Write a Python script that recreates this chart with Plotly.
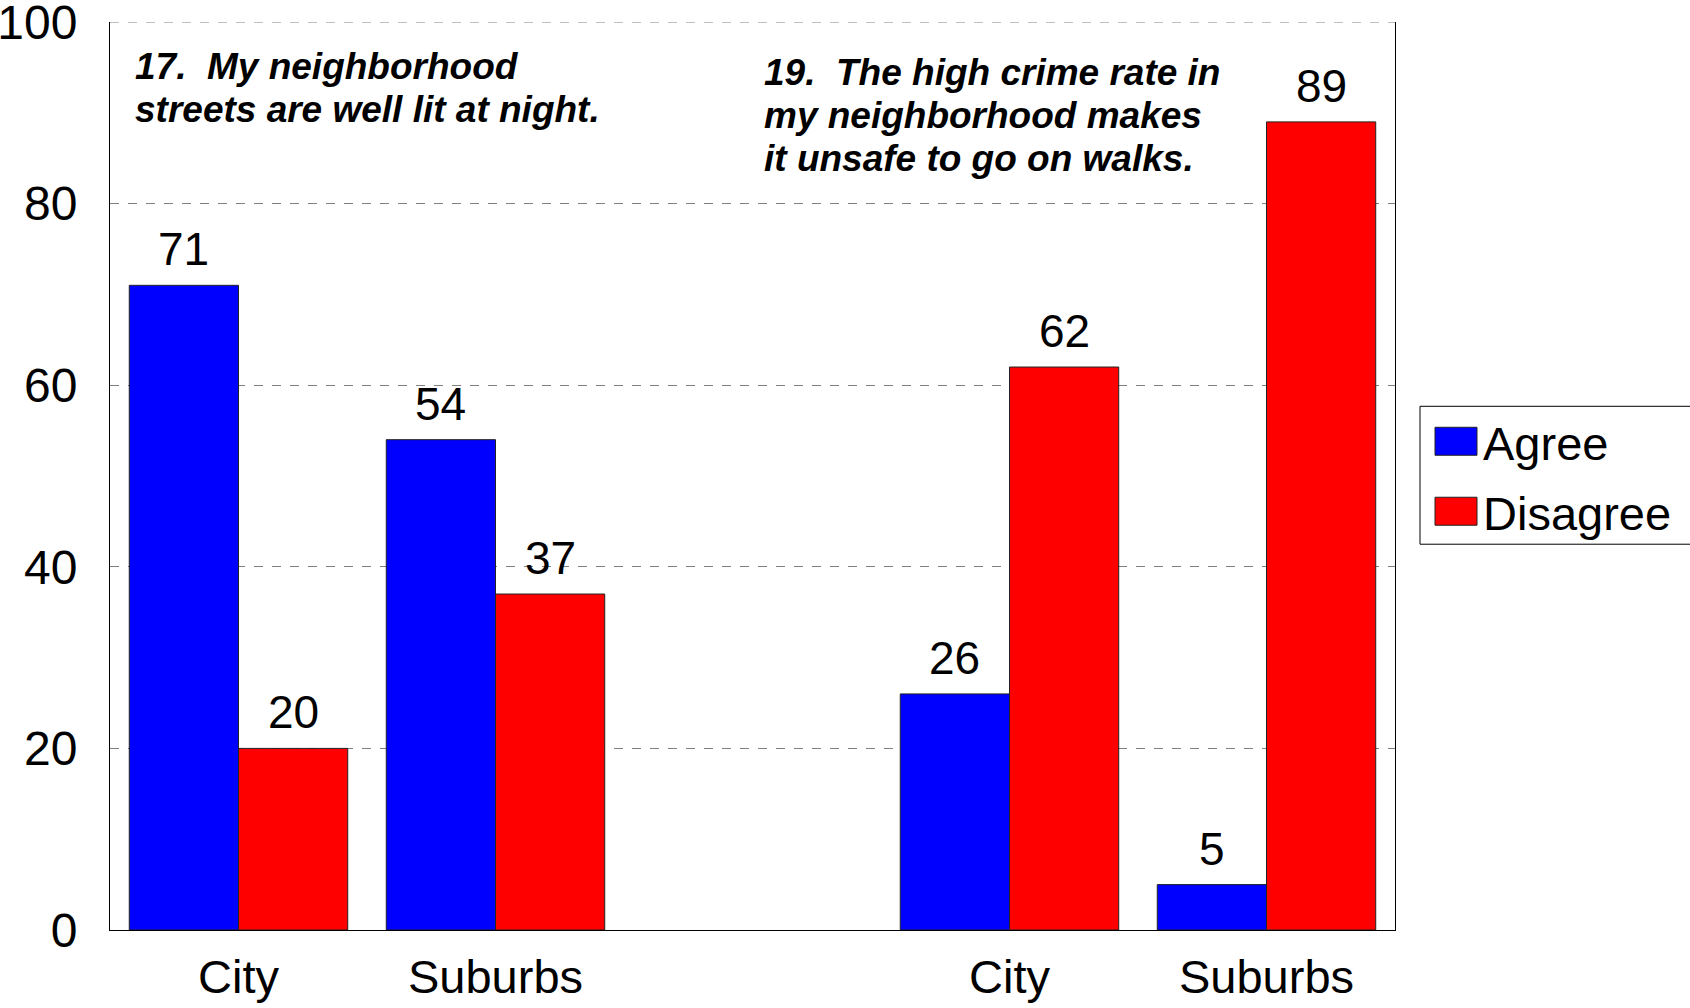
import plotly.graph_objects as go

# data
positions = [0, 1, 2, 3, 4]
tick_labels = ["City", "Suburbs", "", "City", "Suburbs"]
series_names = ["Agree", "Disagree"]
series_colors = ["#0000FF", "#FF0000"]
agree = [71, 54, None, 26, 5]
disagree = [20, 37, None, 62, 89]

note_17 = ["17.  My neighborhood", "streets are well lit at night."]
note_19 = ["19.  The high crime rate in", "my neighborhood makes", "it unsafe to go on walks."]

FONT = "Arial, Liberation Sans, sans-serif"
W, H = 1690, 1008
X0, X1, Y0, Y1 = 110, 1395, 21.5, 930   # plot area in page pixels
L, T = X0, Y0
R, B = W - X1, H - Y1
PW, PH = X1 - X0, Y1 - Y0
BARGAP = 0.15


def px_x(x):
    return (x - X0) / PW


def px_y(y):
    return (Y1 - y) / PH


fig = go.Figure()

# grouped bars, labels placed as annotations above each bar
half = (1 - BARGAP) / 2
for k, (name, values, color) in enumerate(zip(series_names, [agree, disagree], series_colors)):
    fig.add_trace(go.Bar(
        x=positions,
        y=values,
        name=name,
        marker=dict(color=color, line=dict(color="#222222", width=1)),
        showlegend=False,
    ))
    offset = (k - 0.5) * half
    for p, v in zip(positions, values):
        if v is None:
            continue
        fig.add_annotation(
            x=p + offset, y=v, text=str(v),
            xref="x", yref="y",
            xanchor="center", yanchor="bottom",
            yshift=8, showarrow=False,
            font=dict(size=46, color="black", family=FONT),
        )


def add_note(lines, x_px, first_baseline_px, step=43):
    for i, line in enumerate(lines):
        base = first_baseline_px + i * step
        fig.add_annotation(
            text=f"<b><i>{line}</i></b>",
            xref="paper", yref="paper",
            x=px_x(x_px), y=px_y(base + 9),
            xanchor="left", yanchor="bottom",
            showarrow=False,
            font=dict(size=37, color="black", family=FONT),
        )


add_note(note_17, 133, 80)
add_note(note_19, 762, 86)

# custom legend with large swatches
fig.add_shape(type="rect", xref="paper", yref="paper",
              x0=px_x(1420), x1=px_x(1710), y0=px_y(544), y1=px_y(406),
              line=dict(color="black", width=1), fillcolor="white")
for i, (name, color) in enumerate(zip(series_names, series_colors)):
    cy = 441 + i * 70
    fig.add_shape(type="rect", xref="paper", yref="paper",
                  x0=px_x(1435), x1=px_x(1477), y0=px_y(cy + 14), y1=px_y(cy - 14),
                  line=dict(color="#222222", width=1), fillcolor=color)
    fig.add_annotation(text=name, xref="paper", yref="paper",
                       x=px_x(1481), y=px_y(cy + 2), xanchor="left", yanchor="middle",
                       showarrow=False, font=dict(size=47, color="black", family=FONT))

# top dashed gridline at 100
fig.add_shape(type="line", xref="paper", yref="y", x0=0, x1=1, y0=100, y1=100,
              line=dict(color="#808080", width=1, dash="dash"))

fig.update_layout(
    width=W, height=H,
    margin=dict(l=L, r=R, t=T, b=B, autoexpand=False),
    paper_bgcolor="white",
    plot_bgcolor="white",
    barmode="group",
    bargap=BARGAP,
    bargroupgap=0,
    font=dict(family=FONT, color="black"),
    showlegend=False,
)

fig.update_xaxes(
    range=[-0.5, 4.5],
    tickvals=positions,
    ticktext=tick_labels,
    ticks="",
    tickfont=dict(size=47, family=FONT),
    ticklabelstandoff=6,
    showline=True, linecolor="black", linewidth=1,
    showgrid=False,
    automargin=False,
)

fig.update_yaxes(
    range=[0, 100],
    tickvals=[0, 20, 40, 60, 80, 100],
    ticks="",
    tickfont=dict(size=48, family=FONT),
    ticklabelstandoff=22,
    ticklabeloverflow="allow",
    showline=True, mirror=True, linecolor="black", linewidth=1,
    showgrid=True, gridcolor="#808080", gridwidth=1, griddash="dash",
    zeroline=False,
    automargin=False,
)

# drop the default page margin so the figure sits at the window's corner
fig.write_html(
    "out.html",
    config={"displayModeBar": False},
    post_script="document.body.style.margin='0';",
)
